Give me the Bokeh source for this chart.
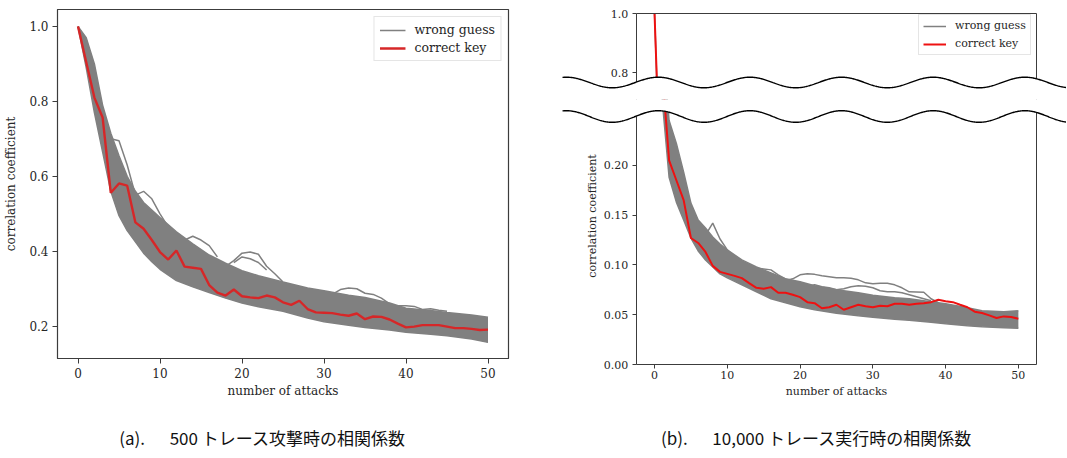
import numpy as np
from bokeh.plotting import figure
from bokeh.models import (Range1d, FixedTicker, PrintfTickFormatter, Legend, LegendItem,
                          PolyAnnotation, LinearAxis)
from bokeh.layouts import row, column
from bokeh.embed import file_html
from bokeh.resources import INLINE
from bokeh.core.properties import value

# ---------------- data: panel (a) 500 traces ----------------
attacks = list(range(51))
red_a = [1.0, 0.905, 0.81, 0.757, 0.556, 0.581, 0.575, 0.477, 0.46, 0.43, 0.398,
         0.378, 0.402, 0.359, 0.356, 0.353, 0.31, 0.29, 0.282, 0.298, 0.28,
         0.277, 0.275, 0.282, 0.277, 0.264, 0.257, 0.268, 0.246, 0.237, 0.236,
         0.235, 0.231, 0.228, 0.234, 0.219, 0.226, 0.225, 0.218, 0.207, 0.197,
         0.199, 0.203, 0.203, 0.203, 0.199, 0.195, 0.195, 0.193, 0.19, 0.191]
env_x_a = [0, 1, 2, 3, 4, 5, 6, 7, 8, 9, 10, 12, 14, 16, 18, 20, 22, 25, 28, 30,
           33, 35, 38, 40, 43, 45, 48, 50]
low_a = [1.0, 0.89, 0.77, 0.665, 0.56, 0.495, 0.455, 0.425, 0.395, 0.372, 0.352,
         0.322, 0.305, 0.29, 0.275, 0.262, 0.252, 0.24, 0.222, 0.212, 0.203,
         0.197, 0.19, 0.184, 0.179, 0.175, 0.166, 0.157]
up_a = [1.0, 0.97, 0.9, 0.79, 0.715, 0.655, 0.6, 0.56, 0.53, 0.51, 0.49, 0.452,
        0.42, 0.39, 0.368, 0.348, 0.335, 0.318, 0.302, 0.295, 0.283, 0.277,
        0.262, 0.248, 0.242, 0.237, 0.23, 0.224]
out1_x_a = [4, 5, 6, 7]
out1_y_a = [0.70, 0.695, 0.63, 0.55]
out2_x_a = [7, 8, 9, 10, 11]
out2_y_a = [0.55, 0.56, 0.54, 0.50, 0.465]
out3_x_a = [12, 13, 14, 15, 16, 17]
out3_y_a = [0.44, 0.43, 0.44, 0.43, 0.415, 0.385]
out4_x_a = [18, 19, 20, 21, 22, 23, 24, 25]
out4_y_a = [0.36, 0.375, 0.395, 0.398, 0.392, 0.36, 0.34, 0.318]
out5_x_a = [19, 20, 21, 22, 23]
out5_y_a = [0.37, 0.385, 0.38, 0.37, 0.35]
out6_x_a = [31, 32, 33, 34, 35, 36, 37, 38]
out6_y_a = [0.285, 0.298, 0.302, 0.30, 0.288, 0.285, 0.275, 0.26]
out7_x_a = [39, 40, 41, 42, 43, 44, 45]
out7_y_a = [0.255, 0.255, 0.253, 0.245, 0.247, 0.243, 0.24]

# ---------------- data: panel (b) 10,000 traces ----------------
red_b = [1.0, 0.30, 0.205, 0.185, 0.165, 0.127, 0.122, 0.113, 0.099, 0.093, 0.091,
         0.089, 0.0867, 0.0817, 0.077, 0.076, 0.0777, 0.072, 0.072, 0.070, 0.0676,
         0.0626, 0.0616, 0.0565, 0.0575, 0.060, 0.055, 0.0575, 0.060, 0.0585, 0.0575,
         0.059, 0.0585, 0.061, 0.061, 0.060, 0.061, 0.0616, 0.0626, 0.065, 0.0636,
         0.0626, 0.060, 0.0575, 0.053, 0.0517, 0.0493, 0.0467, 0.0483, 0.0476, 0.046]
env_x_b = [0, 1, 2, 3, 4, 5, 6, 7, 8, 9, 10, 12, 14, 16, 18, 20, 22, 25, 28, 30,
           33, 35, 38, 40, 43, 45, 48, 50]
low_b = [1.0, 0.27, 0.188, 0.163, 0.145, 0.127, 0.114, 0.105, 0.098, 0.091, 0.087,
         0.080, 0.073, 0.066, 0.062, 0.058, 0.055, 0.0515, 0.049, 0.0475, 0.0455,
         0.0444, 0.0425, 0.041, 0.039, 0.038, 0.037, 0.0363]
up_b = [1.0, 0.33, 0.245, 0.222, 0.193, 0.162, 0.145, 0.137, 0.128, 0.121, 0.115,
        0.105, 0.098, 0.092, 0.086, 0.083, 0.079, 0.075, 0.072, 0.0695, 0.067,
        0.066, 0.063, 0.061, 0.057, 0.054, 0.053, 0.054]
out1_x_b = [6, 7, 8, 9, 10, 11]
out1_y_b = [0.14, 0.13, 0.142, 0.126, 0.115, 0.108]
out2_x_b = list(range(17, 40))
out2_y_b = [0.082, 0.084, 0.086, 0.090, 0.091, 0.0905, 0.089, 0.088, 0.087, 0.087,
            0.0865, 0.085, 0.082, 0.081, 0.0815, 0.0815, 0.080, 0.077, 0.073,
            0.0728, 0.0726, 0.066, 0.062]
out3_x_b = list(range(21, 39))
out3_y_b = [0.078, 0.080, 0.078, 0.077, 0.075, 0.076, 0.078, 0.079, 0.0785, 0.077,
            0.074, 0.073, 0.073, 0.072, 0.070, 0.068, 0.066, 0.064]
out4_x_b = [12, 13, 14, 15, 16, 17, 18]
out4_y_b = [0.102, 0.100, 0.097, 0.096, 0.095, 0.090, 0.086]

x_ticks = [0, 10, 20, 30, 40, 50]
y_ticks_a = [0.2, 0.4, 0.6, 0.8, 1.0]
y_ticks_b_top = [0.8, 1.0]
y_ticks_b_low = [0.0, 0.05, 0.10, 0.15, 0.20]

GAP = "\u3000\u00a0\u00a0"
captions = ["(a)." + GAP + "500 トレース攻撃時の相関係数",
            "(b)." + GAP + "10,000 トレース実行時の相関係数"]

SERIF = "DejaVu Serif"
GRAY = "#808080"
TXT = "#262626"
SPINE = "#3c3c3c"
RED_A = "#d62728"
RED_B = "#ee1111"


def style_axis(ax, size, tick=5, lab_so=4, ax_so=3):
    ax.major_label_text_font = SERIF
    ax.major_label_text_font_size = size
    ax.major_label_text_color = TXT
    ax.axis_label_text_font = SERIF
    ax.axis_label_text_font_size = size
    ax.axis_label_text_font_style = "normal"
    ax.axis_label_text_color = TXT
    ax.major_tick_in = 0
    ax.major_tick_out = tick
    ax.minor_tick_line_color = None
    ax.axis_line_color = SPINE
    ax.major_tick_line_color = SPINE
    ax.major_label_standoff = lab_so
    ax.axis_label_standoff = ax_so


def make_legend(gray_r, red_r, size, gw, lh, pad, sp, **kw):
    lg = Legend(items=[LegendItem(label="wrong guess", renderers=[gray_r]),
                       LegendItem(label="correct key", renderers=[red_r])], **kw)
    lg.label_text_font = SERIF
    lg.label_text_font_size = size
    lg.label_text_color = TXT
    lg.glyph_width = gw
    lg.glyph_height = lh
    lg.label_height = lh
    lg.label_standoff = 9
    lg.padding = pad
    lg.spacing = sp
    lg.border_line_color = "#cccccc"
    lg.background_fill_alpha = 0.85
    return lg


# ---------------- panel (a) ----------------
pa = figure(width=560, height=402, x_range=Range1d(-2.5, 52.5), y_range=Range1d(0.114, 1.045),
            output_backend="svg", toolbar_location=None,
            min_border_left=57, min_border_right=52, min_border_top=9, min_border_bottom=44)
pa.grid.visible = False
pa.outline_line_color = SPINE
pa.outline_line_width = 1.2
pa.varea(x=env_x_a, y1=low_a, y2=up_a, fill_color=GRAY)
g_a = pa.line(env_x_a, low_a, line_color=GRAY, line_width=1.5)
pa.line(env_x_a, up_a, line_color=GRAY, line_width=1.5)
for ox, oy in [(out1_x_a, out1_y_a), (out2_x_a, out2_y_a), (out3_x_a, out3_y_a),
               (out4_x_a, out4_y_a), (out5_x_a, out5_y_a), (out6_x_a, out6_y_a),
               (out7_x_a, out7_y_a)]:
    pa.line(ox, oy, line_color=GRAY, line_width=1.5)
r_a = pa.line(attacks, red_a, line_color=RED_A, line_width=2.4)
style_axis(pa.xaxis[0], "12px", 5, 4, 3)
style_axis(pa.yaxis[0], "12px", 5, 4, 8)
pa.xaxis.ticker = FixedTicker(ticks=x_ticks)
pa.yaxis.ticker = FixedTicker(ticks=y_ticks_a)
pa.yaxis.formatter = PrintfTickFormatter(format="%.1f")
pa.xaxis.axis_label = "number of attacks"
pa.yaxis.axis_label = "correlation coefficient"
pa.add_layout(make_legend(g_a, r_a, "12.5px", 26, 14, 5, 3, location="top_right", margin=7))

# ---------------- panel (b): shared horizontal geometry ----------------
PX_PER_UNIT = 401 / 55.0          # plot box 401 px wide for -2.5 .. 52.5
LEFT_EXT, RIGHT_EXT = 76, 30      # space left/right of the plot box that the waves cover
XB = (-2.5 - LEFT_EXT / PX_PER_UNIT, 52.5 + RIGHT_EXT / PX_PER_UNIT)
W_B = 401 + LEFT_EXT + RIGHT_EXT - 1
H_ALL = 402

# upper part (0.75 .. 1.0)
TOP_SCALE = 296.0
TOP_BOX, TOP_H = 13, 99
yt0, yt1 = 1.0 - (TOP_H - TOP_BOX) / TOP_SCALE, 1.0 + TOP_BOX / TOP_SCALE
pt = figure(width=W_B, height=TOP_H, x_range=Range1d(*XB), y_range=Range1d(yt0, yt1),
            output_backend="svg", toolbar_location=None, x_axis_location=None, y_axis_location=None,
            min_border=0)
pt.grid.visible = False
pt.outline_line_color = None
pt.varea(x=env_x_b, y1=low_b, y2=up_b, fill_color=GRAY)
g_t = pt.line(env_x_b, low_b, line_color=GRAY, line_width=1.5)
r_t = pt.line(attacks, red_b, line_color=RED_B, line_width=2.0)
ytl = LinearAxis(fixed_location=-2.5, ticker=FixedTicker(ticks=y_ticks_b_top),
                 formatter=PrintfTickFormatter(format="%.1f"), bounds=(yt0, 1.0))
style_axis(ytl, "11px", 4, 4, 3)
pt.add_layout(ytl, "left")
ytr = LinearAxis(fixed_location=52.5, ticker=FixedTicker(ticks=[]), bounds=(yt0, 1.0))
style_axis(ytr, "11px", 0, 0, 0)
pt.add_layout(ytr, "right")
xtt = LinearAxis(fixed_location=1.0, bounds=(-2.5, 52.5), ticker=FixedTicker(ticks=[]))
style_axis(xtt, "11px", 0, 0, 0)
pt.add_layout(xtt, "above")
pt.add_layout(make_legend(g_t, r_t, "11px", 23, 12, 4, 5, location=(358, 44), margin=0))

# lower part (0 .. 0.25)
LOW_SCALE = 996.0
LOW_H = H_ALL - TOP_H
LOW_BOTTOM = 364 - TOP_H          # plot box bottom inside the lower figure
yl0, yl1 = -(LOW_H - LOW_BOTTOM) / LOW_SCALE, LOW_BOTTOM / LOW_SCALE
pl = figure(width=W_B, height=LOW_H, x_range=Range1d(*XB), y_range=Range1d(yl0, yl1),
            output_backend="svg", toolbar_location=None, x_axis_location=None, y_axis_location=None,
            min_border=0)
pl.grid.visible = False
pl.outline_line_color = None
pl.varea(x=env_x_b, y1=low_b, y2=up_b, fill_color=GRAY)
pl.line(env_x_b, low_b, line_color=GRAY, line_width=1.5)
pl.line(env_x_b, up_b, line_color=GRAY, line_width=1.5)
for ox, oy in [(out1_x_b, out1_y_b), (out2_x_b, out2_y_b), (out3_x_b, out3_y_b),
               (out4_x_b, out4_y_b)]:
    pl.line(ox, oy, line_color=GRAY, line_width=1.5)
pl.line(attacks, red_b, line_color=RED_B, line_width=2.0)
yll = LinearAxis(fixed_location=-2.5, ticker=FixedTicker(ticks=y_ticks_b_low),
                 formatter=PrintfTickFormatter(format="%.2f"), bounds=(0.0, yl1))
style_axis(yll, "11px", 4, 4, 3)
pl.add_layout(yll, "left")
ylab = LinearAxis(fixed_location=-2.5, ticker=FixedTicker(ticks=[]), bounds=(0.049, 0.249),
                  axis_label="correlation coefficient")
style_axis(ylab, "11px", 0, 0, 38)
ylab.axis_line_color = None
pl.add_layout(ylab, "left")
ylr = LinearAxis(fixed_location=52.5, ticker=FixedTicker(ticks=[]), bounds=(0.0, yl1))
style_axis(ylr, "11px", 0, 0, 0)
pl.add_layout(ylr, "right")
xlb = LinearAxis(fixed_location=0.0, bounds=(-2.5, 52.5), ticker=FixedTicker(ticks=x_ticks),
                 axis_label="number of attacks")
style_axis(xlb, "11px", 4, 2, 3)
pl.add_layout(xlb, "below")

# ---------------- wavy axis break ----------------
wx = np.linspace(XB[0] + 2 / PX_PER_UNIT, XB[1], 700)


def wave(center, amp, period=12.6, phase=0.5):
    return center + amp * np.cos(2 * np.pi * (wx - phase) / period)


uw = wave(1.0 - (82 - TOP_BOX) / TOP_SCALE, 5.3 / TOP_SCALE)
lw = wave((364 - 116) / LOW_SCALE, 5.8 / LOW_SCALE)
for fig, w, edge in [(pt, uw, 0.5), (pl, lw, 0.4)]:
    fig.add_layout(PolyAnnotation(xs=list(wx) + list(wx[::-1]), ys=list(w) + [edge] * len(wx),
                                  fill_color="white", fill_alpha=1.0, line_color="white",
                                  line_width=1.0, level="overlay"))
    fig.add_layout(PolyAnnotation(xs=list(wx) + list(wx[::-1]), ys=list(w) + list(w[::-1]),
                                  fill_alpha=0.0, line_color="black", line_alpha=1.0,
                                  line_width=1.4, level="overlay"))

# ---------------- captions ----------------
pc = figure(width=1066, height=55, x_range=Range1d(0, 1066), y_range=Range1d(0, 55),
            output_backend="svg", toolbar_location=None, x_axis_location=None,
            y_axis_location=None, min_border=0)
pc.grid.visible = False
pc.outline_line_color = None
pc.text(x=[262, 816], y=[20, 20], text=captions, text_font=value("Noto Sans CJK JP"),
        text_font_size="17px", text_align="center", text_baseline="middle",
        text_color="#111111")

layout = column(row(pa, column(pt, pl)), pc)
open("out.html", "w").write(file_html(layout, INLINE))
